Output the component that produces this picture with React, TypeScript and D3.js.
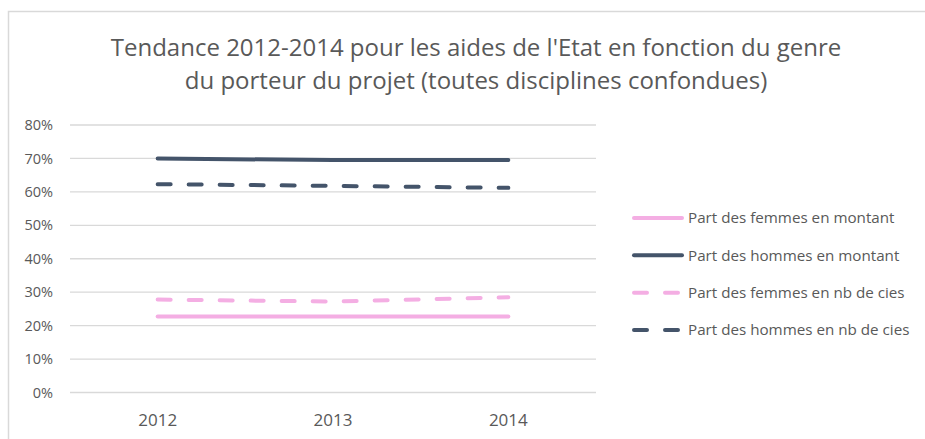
import React from "react";
import * as d3 from "d3";

const years = ["2012", "2013", "2014"];
const femmesMontant = [0.227, 0.227, 0.227];
const hommesMontant = [0.70, 0.695, 0.695];
const femmesCies = [0.278, 0.272, 0.285];
const hommesCies = [0.623, 0.618, 0.612];
const yTicks = [0, 0.1, 0.2, 0.3, 0.4, 0.5, 0.6, 0.7, 0.8];
const titleLines = [
  "Tendance 2012-2014 pour les aides de l'Etat en fonction du genre",
  "du porteur du projet (toutes disciplines confondues)",
];

const PINK = "#F4AEE3";
const NAVY = "#44546A";

const series = [
  { name: "Part des femmes en montant", values: femmesMontant, color: PINK, dashed: false },
  { name: "Part des hommes en montant", values: hommesMontant, color: NAVY, dashed: false },
  { name: "Part des femmes en nb de cies", values: femmesCies, color: PINK, dashed: true },
  { name: "Part des hommes en nb de cies", values: hommesCies, color: NAVY, dashed: true },
];

export default function App() {
  const W = 925;
  const H = 439;
  const x = d3.scaleBand<string>().domain(years).range([70, 596]);
  const y = d3.scaleLinear().domain([0, 0.8]).range([392.5, 125]);
  const line = d3
    .line<number>()
    .x((_, i) => (x(years[i]) as number) + x.bandwidth() / 2)
    .y((v) => y(v));
  const font = "'Open Sans', sans-serif";
  const legendY = d3.scalePoint<string>().domain(series.map((s) => s.name)).range([218, 330]);

  return (
    <svg
      width={W}
      height={H}
      style={{ position: "absolute", left: 0, top: 0, background: "#fff" }}
      fontFamily={font}
    >
      <rect x={8.5} y={11.5} width={940} height={460} fill="#fff" stroke="#D9D9D9" strokeWidth={1.5} />
      {titleLines.map((t, i) => (
        <text key={i} x={476} y={56 + i * 33} textAnchor="middle" fontSize={24} fill="#595959">
          {t}
        </text>
      ))}
      {yTicks.map((t) => (
        <g key={t}>
          <line x1={70} x2={596} y1={y(t)} y2={y(t)} stroke="#D9D9D9" strokeWidth={1.3} />
          <text x={53} y={y(t)} dy="0.35em" textAnchor="end" fontSize={14.5} fill="#595959">
            {d3.format(".0%")(t)}
          </text>
        </g>
      ))}
      {years.map((yr) => (
        <text
          key={yr}
          x={(x(yr) as number) + x.bandwidth() / 2}
          y={420}
          dy="0.35em"
          textAnchor="middle"
          fontSize={17}
          fill="#595959"
        >
          {yr}
        </text>
      ))}
      {series.map((s) => (
        <path
          key={s.name}
          d={line(s.values) || ""}
          fill="none"
          stroke={s.color}
          strokeWidth={4}
          strokeLinecap="round"
          strokeDasharray={s.dashed ? "13 18" : undefined}
        />
      ))}
      {series.map((s) => {
        const ly = legendY(s.name) as number;
        return (
          <g key={s.name}>
            <line
              x1={634}
              x2={s.dashed ? 681 : 682}
              y1={ly}
              y2={ly}
              stroke={s.color}
              strokeWidth={4}
              strokeLinecap="round"
              strokeDasharray={s.dashed ? "13 18" : undefined}
            />
            <text x={688} y={ly} dy="0.35em" fontSize={15.2} fill="#595959">
              {s.name}
            </text>
          </g>
        );
      })}
    </svg>
  );
}
